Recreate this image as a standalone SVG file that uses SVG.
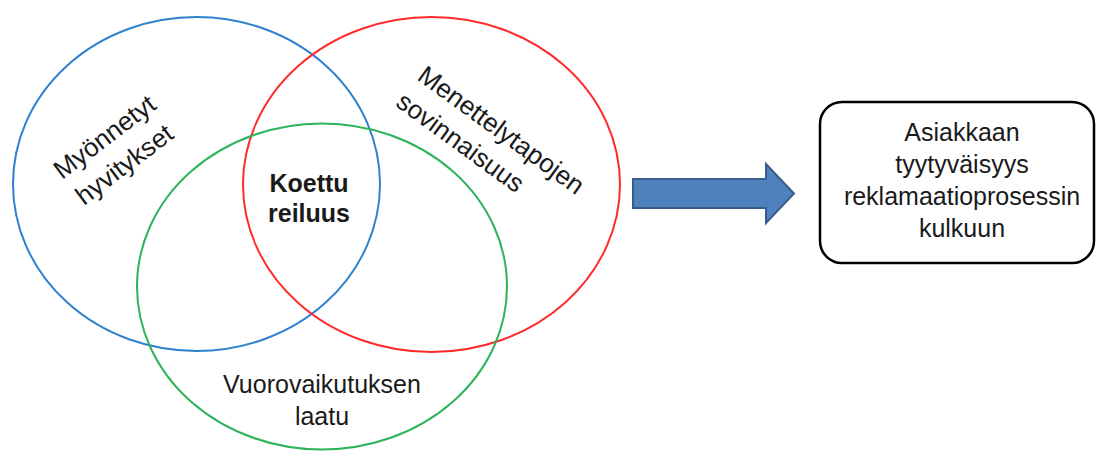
<svg xmlns="http://www.w3.org/2000/svg" width="1097" height="455" viewBox="0 0 1097 455">
<style>
.c{fill:none;stroke-width:2}
.t{font-family:"Liberation Sans",Arial,sans-serif;font-size:25px;fill:#1a1a1a}
.r{font-size:26px}
.b{font-weight:bold}
</style>
<rect width="1097" height="455" fill="#fff"/>
<g id="blue-circle"><ellipse class="c" cx="196.5" cy="184" rx="183.5" ry="167" stroke="#2f80cf"/></g>
<g id="red-circle"><ellipse class="c" cx="431.5" cy="184.5" rx="188.5" ry="167.5" stroke="#ff2a2a"/></g>
<g id="green-circle"><ellipse class="c" cx="322" cy="286.5" rx="185" ry="163" stroke="#2db35a"/></g>
<g id="label-myonnetyt" transform="translate(62,180) rotate(-37)">
<text class="t r" x="0" y="0">Myönnetyt</text>
<text class="t r" x="2" y="34">hyvitykset</text>
</g>
<g id="label-menettely" transform="translate(416,79) rotate(36)">
<text class="t r" x="0" y="0">Menettelytapojen</text>
<text class="t r" x="-2" y="34">sovinnaisuus</text>
</g>
<g id="label-koettu">
<text class="t b" x="309" y="192" text-anchor="middle">Koettu</text>
<text class="t b" x="309" y="222" text-anchor="middle">reiluus</text>
</g>
<g id="label-vuoro">
<text class="t" x="322" y="393" text-anchor="middle">Vuorovaikutuksen</text>
<text class="t" x="322" y="425" text-anchor="middle">laatu</text>
</g>
<g id="connectors">
<polygon points="633,179 766,179 766,164 794,193.5 766,223 766,208 633,208" fill="#4f81bd" stroke="#385d8a" stroke-width="2" stroke-linejoin="miter"/>
</g>
<g id="result-box">
<rect x="820" y="102" width="274" height="161" rx="22" ry="22" fill="#fff" stroke="#000" stroke-width="2.5"/>
<text class="t" x="962" y="141" text-anchor="middle">Asiakkaan</text>
<text class="t" x="962" y="173" text-anchor="middle">tyytyväisyys</text>
<text class="t" x="962" y="205" text-anchor="middle">reklamaatioprosessin</text>
<text class="t" x="962" y="237" text-anchor="middle">kulkuun</text>
</g>
</svg>
